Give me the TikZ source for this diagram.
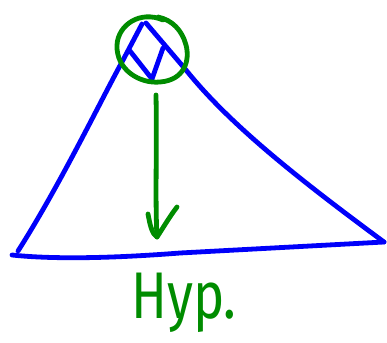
\documentclass[tikz,border=0pt]{standalone}
\usepackage{fontspec}
\setmainfont{Fira Sans}
\definecolor{penblue}{RGB}{0,0,250}
\definecolor{pengreen}{RGB}{0,140,0}
\tikzset{
  bluestroke/.style={draw=penblue, line width=4.8pt, line cap=round, line join=round},
  greenstroke/.style={draw=pengreen, line width=4.8pt, line cap=round, line join=round},
}
\begin{document}
\begin{tikzpicture}[x=1pt,y=-1pt]
\useasboundingbox (0,0) rectangle (387,342);
% triangle
\coordinate (apexL) at (142,24);
\coordinate (apexR) at (146,23);
\coordinate (baseL) at (12,255);
\coordinate (baseR) at (384,242);
\draw[bluestroke] (apexL) -- (122,62) .. controls (100,102) and (60,185) .. (18,251);
\draw[bluestroke] (apexR) -- (186,70) .. controls (230,125) and (300,180) .. (baseR);
\draw[bluestroke] (baseL) .. controls (40,258) and (90,260) .. (180,253) -- (baseR);
% zigzag inside circle
\draw[bluestroke] (130,51) -- (152,79) -- (163,48);
% green circle
\draw[greenstroke] (163,20) .. controls (140,10) and (118,25) .. (117,45)
  .. controls (116,70) and (140,84) .. (160,82)
  .. controls (185,80) and (190,60) .. (186,45)
  .. controls (182,30) and (172,20) .. (158,17);
% arrow
\coordinate (arrtop) at (156,95);
\coordinate (arrtip) at (157,237);
\draw[greenstroke] (arrtop) .. controls (157,150) and (155,200) .. (arrtip);
\draw[greenstroke] (148,214) .. controls (150,225) and (152,234) .. (arrtip) .. controls (163,228) and (170,216) .. (177,207);
% label
\node[text=pengreen, font=\fontsize{66}{66}\selectfont, xscale=0.8, anchor=base west, inner sep=0pt] (hyp) at (131,318) {Hyp.};
\end{tikzpicture}
\end{document}
